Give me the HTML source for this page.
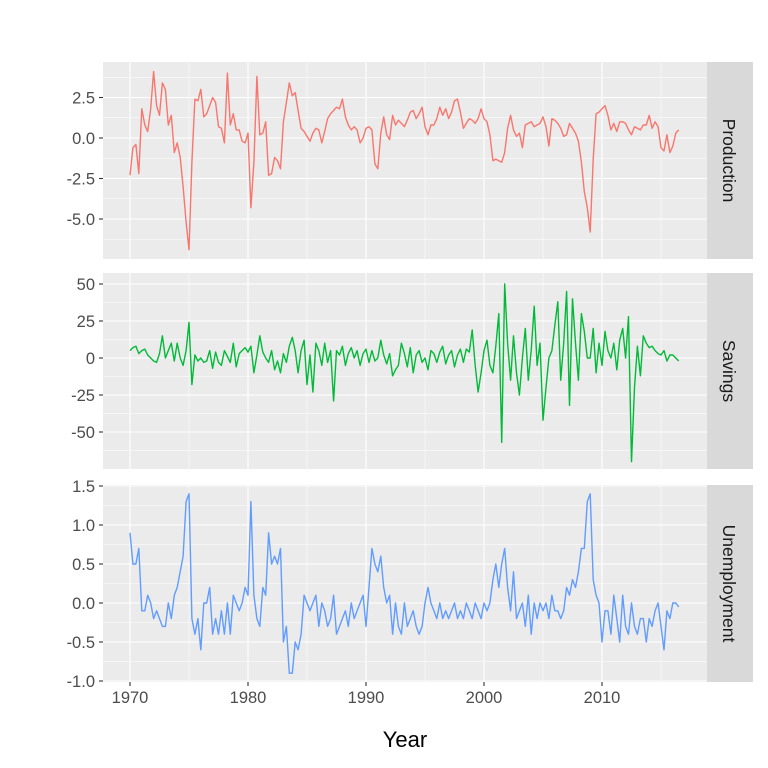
<!DOCTYPE html>
<html><head><meta charset="utf-8"><style>
html,body{margin:0;padding:0;background:#fff;}
svg{display:block;font-family:"Liberation Sans",Arial,sans-serif;}
</style></head><body>
<svg id="s" width="768" height="768" xmlns="http://www.w3.org/2000/svg"></svg>
<script>
var prod=[-2.3,-0.6,-0.4,-2.2,1.8,0.8,0.4,1.8,4.1,2,1.4,3.4,3,0.8,1.4,-0.9,-0.3,-1.2,-3,-5.2,
-6.9,-1.5,2.4,2.3,3,1.3,1.5,2,2.5,2.2,0.7,0.6,-0.3,4,0.8,1.5,0.5,0.5,-0.2,-0.3,
0.3,-4.3,-1.5,3.8,0.2,0.3,1,-2.3,-2.2,-1.2,-1.4,-1.9,1,2.2,3.4,2.6,2.8,1.7,0.6,0.4,
0.1,-0.2,0.3,0.6,0.5,-0.3,0.4,1.2,1.5,1.7,1.9,1.8,2.4,1.3,0.8,0.5,0.7,0.5,-0.3,0,
0.6,0.7,0.5,-1.6,-1.9,0.3,1.3,0.2,-0.1,1.4,0.8,1.1,0.9,0.7,1.1,1.6,1.7,1.2,1.5,1.9,
0.7,0.2,0.8,0.8,1.2,1.9,1.4,1.8,1.2,1.6,2.3,2.4,1.6,0.6,0.9,1.2,1.1,0.9,1.2,1.8,
1.2,1,0.2,-1.4,-1.3,-1.4,-1.5,-0.9,0.6,1.4,0.5,0.1,0.3,-0.6,0.8,0.9,1,0.7,0.8,0.9,
1.3,0.7,-0.5,1.2,1.1,0.9,0.6,0.1,0.2,0.9,0.6,0.3,-0.2,-1.5,-3.3,-4.3,-5.8,-1.3,1.5,1.6,
1.8,2,1.4,0.5,0.9,0.4,1,1,0.9,0.5,0.2,0.7,0.6,0.5,0.8,0.8,1.4,0.6,1,0.7,
-0.6,-0.8,0.2,-0.9,-0.5,0.3,0.5];
var sav=[5,7,8,3,5,6,2,0,-2,-3,3,15,0,5,10,-2,10,0,-5,5,
24,-18,2,-2,0,-3,-2,5,-7,4,-3,-5,5,1,-3,10,-6,3,5,7,
4,8,-10,2,15,4,0,-3,5,-8,-2,-10,3,-3,8,14,5,-10,5,12,
-18,2,-23,10,5,-5,10,-3,5,-29,5,2,8,-5,3,7,0,5,-5,3,
6,-3,5,-2,0,12,2,-4,3,-12,-8,-5,10,3,-6,7,-10,2,5,-3,
0,-8,5,3,-3,4,8,-4,2,5,-6,2,6,-3,6,4,19,-5,-23,-10,
5,12,-5,-10,8,30,-57,50,10,-15,15,-10,-25,0,20,-15,5,35,-5,10,
-42,-20,0,5,22,38,-15,10,45,-32,40,10,-15,30,18,0,0,20,-10,10,
-5,18,5,0,10,-8,12,20,0,28,-70,-20,8,-12,15,10,7,8,5,3,
2,5,-2,2,2,0,-2];
var un=[.9,.5,.5,.7,-.1,-.1,.1,0,-.2,-.1,-.2,-.3,-.3,0,-.2,.1,.2,.4,.6,1.3,
1.4,-.2,-.4,-.2,-.6,0,0,.2,-.4,-.2,-.4,-.1,-.4,0,-.4,.1,0,-.1,0,.2,
.1,1.3,.1,-.2,-.3,.2,.1,.9,.5,.6,.5,.7,-.5,-.3,-.9,-.9,-.5,-.6,-.4,.1,
0,-.1,0,.1,-.3,0,-.1,-.3,-.2,.1,-.4,-.3,-.2,-.1,-.3,0,-.2,-.1,0,.1,
-.3,.2,.7,.5,.4,.6,.2,0,.1,-.4,0,-.3,-.4,0,-.3,-.2,-.1,-.3,-.4,-.3,
0,.2,0,-.1,-.2,0,-.2,-.1,-.2,-.1,0,-.2,-.1,-.2,0,-.1,-.2,0,-.1,-.2,
0,-.1,0,.3,.5,.2,.5,.7,.2,-.1,.4,-.2,-.1,0,-.3,.1,-.4,0,-.2,0,
-.1,0,-.2,.1,-.1,-.1,-.2,-.1,.2,.1,.3,.2,.4,.7,.7,1.3,1.4,.3,.1,0,
-.5,-.1,-.1,-.4,.1,-.2,-.5,.1,-.3,-.4,0,-.3,-.4,-.2,-.2,-.5,-.2,-.3,-.1,0,
-.3,-.6,-.1,-.2,0,0,-.05];
var L=103,R=707,PX=11.8,X0=130;
function xf(t){return X0+(t-1970)*PX;}
var panels=[
{top:62,bot:259,y0:138,k:16.2,data:prod,col:"#F8766D",name:"Production",maj:[2.5,0,-2.5,-5],lab:["2.5","0.0","-2.5","-5.0"],mn:[3.75,1.25,-1.25,-3.75,-6.25]},
{top:273,bot:469,y0:358,k:1.48,data:sav,col:"#00BA38",name:"Savings",maj:[50,25,0,-25,-50],lab:["50","25","0","-25","-50"],mn:[62.5,37.5,12.5,-12.5,-37.5,-62.5]},
{top:485,bot:682,y0:603,k:78,data:un,col:"#619CFF",name:"Unemployment",maj:[1.5,1,0.5,0,-0.5,-1],lab:["1.5","1.0","0.5","0.0","-0.5","-1.0"],mn:[1.25,.75,.25,-.25,-.75]}];
var h="";
panels.forEach(function(p){
 h+='<rect x="'+L+'" y="'+p.top+'" width="'+(R-L)+'" height="'+(p.bot-p.top)+'" fill="#EBEBEB"/>';
 function Y(v){return p.y0-v*p.k;}
 p.mn.forEach(function(v){var y=Y(v);if(y>p.top&&y<p.bot)h+='<line x1="'+L+'" x2="'+R+'" y1="'+y+'" y2="'+y+'" stroke="#fff" stroke-width="0.55"/>';});
 [1975,1985,1995,2005,2015].forEach(function(t){var x=xf(t);h+='<line x1="'+x+'" x2="'+x+'" y1="'+p.top+'" y2="'+p.bot+'" stroke="#fff" stroke-width="0.55"/>';});
 p.maj.forEach(function(v,i){var y=Y(v);h+='<line x1="'+L+'" x2="'+R+'" y1="'+y+'" y2="'+y+'" stroke="#fff" stroke-width="1.1"/>';
  h+='<line x1="99" x2="'+L+'" y1="'+y+'" y2="'+y+'" stroke="#333" stroke-width="1.1"/>';
  h+='<text x="95" y="'+(y+6)+'" text-anchor="end" font-size="16.5" fill="#4D4D4D">'+p.lab[i]+'</text>';});
 [1970,1980,1990,2000,2010].forEach(function(t){var x=xf(t);h+='<line x1="'+x+'" x2="'+x+'" y1="'+p.top+'" y2="'+p.bot+'" stroke="#fff" stroke-width="1.1"/>';});
 var pts=p.data.map(function(v,i){return xf(1970+i*0.25).toFixed(1)+","+Y(v).toFixed(1);}).join(" ");
 h+='<polyline points="'+pts+'" fill="none" stroke="'+p.col+'" stroke-width="1.4" stroke-linejoin="round"/>';
 h+='<rect x="'+R+'" y="'+p.top+'" width="46" height="'+(p.bot-p.top)+'" fill="#D9D9D9"/>';
 var cy=(p.top+p.bot)/2;
 h+='<text transform="translate(723,'+cy+') rotate(90)" text-anchor="middle" font-size="17.5" fill="#1A1A1A">'+p.name+'</text>';
});
[1970,1980,1990,2000,2010].forEach(function(t){var x=xf(t);
 h+='<line x1="'+x+'" x2="'+x+'" y1="682" y2="686" stroke="#333" stroke-width="1.1"/>';
 h+='<text x="'+x+'" y="703" text-anchor="middle" font-size="16.5" fill="#4D4D4D">'+t+'</text>';});
h+='<text x="405" y="747" text-anchor="middle" font-size="22" fill="#000">Year</text>';
document.getElementById("s").innerHTML=h;
</script>
</body></html>
